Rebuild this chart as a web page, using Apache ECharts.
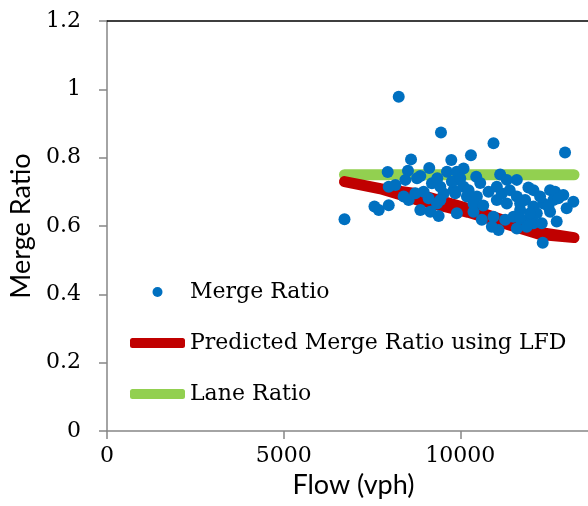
<!DOCTYPE html>
<html>
<head>
<meta charset="utf-8">
<script src="https://cdn.jsdelivr.net/npm/echarts@6/dist/echarts.min.js"></script>
<style>
html,body{margin:0;padding:0;background:#fff;}
#chart{width:588px;height:506px;}
</style>
</head>
<body>
<div id="chart"></div>
<script>
// Observed merge ratio: flow (vph) and ratio
var flowObs = [8258, 9454, 10941, 12966, 10302, 8607, 9746, 7946, 9122, 8520,
  9623, 10093, 9904, 10452, 11130, 11601, 11318, 8446, 8776, 9199,
  7975, 11929, 12071, 12542, 12683, 12918, 13201, 13012, 12730, 12334,
  6723, 7571, 7693, 7975, 8398, 8539, 8870, 9153, 9388, 9904,
  10375, 10610, 10941, 11082, 11601, 11883, 12071, 12307, 9104, 9341,
  9529, 9811, 10093, 10188, 10470, 11035, 11035, 11318, 11601, 11695,
  12071, 12353, 12636, 12542, 11271, 11506, 9435, 8964, 9951, 9763,
  10235, 10375, 11695, 12166, 12777, 11177, 11836,
  8729, 9435, 10895, 9859, 11695, 12260, 12494, 11977, 11883, 10650,
  10800, 11400, 8870, 9350, 10000, 10565, 8164];
var ratioObs = [0.978, 0.874, 0.842, 0.815, 0.807, 0.795, 0.793, 0.758, 0.770, 0.762,
  0.759, 0.768, 0.759, 0.744, 0.751, 0.735, 0.735, 0.735, 0.740, 0.725,
  0.715, 0.713, 0.705, 0.705, 0.700, 0.691, 0.671, 0.652, 0.613, 0.551,
  0.620, 0.657, 0.647, 0.661, 0.686, 0.676, 0.647, 0.642, 0.629, 0.637,
  0.642, 0.618, 0.627, 0.588, 0.593, 0.613, 0.608, 0.608, 0.681, 0.666,
  0.695, 0.705, 0.715, 0.686, 0.686, 0.715, 0.676, 0.666, 0.686, 0.647,
  0.657, 0.666, 0.676, 0.642, 0.618, 0.627, 0.715, 0.700, 0.735, 0.730,
  0.705, 0.666, 0.622, 0.637, 0.681, 0.695, 0.676,
  0.696, 0.676, 0.598, 0.696, 0.666, 0.686, 0.657, 0.637, 0.598, 0.660,
  0.700, 0.705, 0.746, 0.740, 0.740, 0.726, 0.720];

// Predicted merge ratio using LFD (band traced as outline: upper edge then lower edge)
var flowPred = [6723, 7740, 8729, 10226, 12260, 13220, 13220, 12260, 10226, 8729, 7740, 6723];
var ratioPred = [0.730, 0.709, 0.695, 0.651, 0.581, 0.566, 0.566, 0.575, 0.640, 0.678, 0.709, 0.730];

// Lane ratio
var flowLane = [6723, 13220];
var ratioLane = [0.75, 0.75];

var yTicks = ['0', '0.2', '0.4', '0.6', '0.8', '1', '1.2'];
var xTicks = ['0', '5000', '10000'];

function pairs(xs, ys){ return xs.map(function(x,i){ return [x, ys[i]]; }); }

var serif = 'DejaVu Serif';
var sans = 'Lato';
var axisGray = '#868686';

var chart = echarts.init(document.getElementById('chart'), null, {renderer:'canvas'});
chart.setOption({
  animation:false,
  backgroundColor:'#ffffff',
  grid:{left:106, top:21, right:0, bottom:75, containLabel:false},
  legend:{
    orient:'vertical', left:125, top:276, itemWidth:55, itemHeight:10, itemGap:29, itemTextGap:6,
    textStyle:{fontFamily:serif, fontSize:22, color:'#000'},
    data:[
      {name:'Merge Ratio', icon:'circle', itemStyle:{color:'#0070C0'}},
      {name:'Predicted Merge Ratio using LFD', icon:'roundRect', itemStyle:{color:'#C00000'}},
      {name:'Lane Ratio', icon:'roundRect', itemStyle:{color:'#92D050'}}
    ]
  },
  xAxis:[{
    type:'value', min:0, max:13616, interval:5000,
    name:'Flow (vph)', nameLocation:'middle', nameGap:38,
    nameTextStyle:{fontFamily:sans, fontSize:27, color:'#000', padding:[0,0,0,12]},
    axisLine:{show:true, lineStyle:{color:axisGray, width:1.5}},
    axisTick:{show:true, length:8, inside:false, lineStyle:{color:axisGray, width:1.5}},
    splitLine:{show:false},
    axisLabel:{fontFamily:serif, fontSize:22, color:'#000', margin:14, showMaxLabel:false,
      formatter:function(v){ var i = xTicks.indexOf(String(v)); return i>=0 ? xTicks[i] : ''; }}
  },{
    type:'value', position:'top', min:0, max:13616,
    axisLine:{show:true, onZero:false, lineStyle:{color:'#000', width:1.5}},
    axisTick:{show:false}, axisLabel:{show:false}, splitLine:{show:false}
  }],
  yAxis:{
    type:'value', min:0, max:1.2, interval:0.2,
    name:'Merge Ratio', nameLocation:'middle', nameGap:72,
    nameTextStyle:{fontFamily:sans, fontSize:27, color:'#000'},
    axisLine:{show:true, lineStyle:{color:axisGray, width:1.5}},
    axisTick:{show:true, length:8, inside:false, lineStyle:{color:axisGray, width:1.5}},
    splitLine:{show:false},
    axisLabel:{fontFamily:serif, fontSize:22, color:'#000', margin:26,
      formatter:function(v){ var s = String(Math.round(v*10)/10); return yTicks.indexOf(s)>=0 ? s : ''; }}
  },
  series:[
    {
      name:'Merge Ratio', type:'scatter', xAxisIndex:0, z:5,
      symbol:'circle', symbolSize:12,
      itemStyle:{color:'#0070C0', opacity:1},
      data:pairs(flowObs, ratioObs)
    },
    {
      name:'Predicted Merge Ratio using LFD', type:'line', xAxisIndex:0, z:3,
      symbol:'none', showSymbol:false,
      lineStyle:{color:'#C00000', width:11, cap:'round', join:'round'},
      itemStyle:{color:'#C00000'},
      data:pairs(flowPred, ratioPred)
    },
    {
      name:'Lane Ratio', type:'line', xAxisIndex:0, z:2,
      symbol:'none', showSymbol:false,
      lineStyle:{color:'#92D050', width:11, cap:'round', join:'round'},
      itemStyle:{color:'#92D050'},
      data:pairs(flowLane, ratioLane)
    }
  ]
});
</script>
</body>
</html>
